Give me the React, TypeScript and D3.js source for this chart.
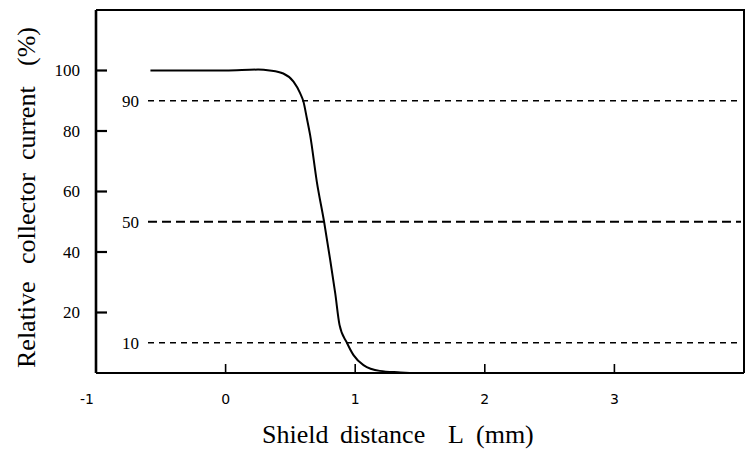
import * as d3 from "d3";

// curve
const shieldDistance = [-0.58, 0.0, 0.25, 0.34, 0.445, 0.524, 0.575, 0.6, 0.627, 0.652, 0.704, 0.76, 0.807, 0.846, 0.879, 0.936, 0.987, 1.064, 1.19, 1.35, 1.42];
const relativeCurrent = [100, 100, 100.3, 100, 99, 96.3, 92.5, 89.8, 84.2, 78.7, 63.2, 50, 37.4, 26.3, 15.9, 10, 5.9, 2.6, 0.7, 0.2, 0];

const xTicks = [-1, 0, 1, 2, 3];
const yTicks = [20, 40, 60, 80, 100];
const refLevels = [90, 50, 10];

const width = 750;
const height = 460;
const serif = "'Liberation Serif', 'Times New Roman', serif";

export default function App() {
  const x = d3.scaleLinear().domain([-1, 4]).range([96, 744]);
  const y = d3.scaleLinear().domain([0, 120]).range([373, 10]);

  const points = shieldDistance.map((d, i) => [d, relativeCurrent[i]] as [number, number]);
  const line = d3
    .line<[number, number]>()
    .x((d) => x(d[0]))
    .y((d) => y(d[1]))
    .curve(d3.curveMonotoneX);

  const [x0, x1] = x.range();
  const [y0, y1] = y.range();

  return (
    <div style={{ position: "absolute", left: 0, top: 0 }}>
      <svg width={width} height={height} style={{ display: "block", background: "#fff" }}>
        {/* frame */}
        <path d={`M${x0},${y1}H${x1}V${y0}`} fill="none" stroke="#000" strokeWidth={2} />
        <line x1={x0} x2={x1} y1={y0} y2={y0} stroke="#000" strokeWidth={2.2} />
        <line x1={x0} x2={x0} y1={y1} y2={y0} stroke="#000" strokeWidth={2.6} />

        {/* y ticks */}
        {yTicks.map((t) => (
          <g key={t}>
            <line x1={x0} x2={x0 + 11} y1={y(t)} y2={y(t)} stroke="#000" strokeWidth={2.2} />
            <text x={80} y={y(t)} dy="0.35em" textAnchor="end" fontFamily={serif} fontSize={17}>
              {t}
            </text>
          </g>
        ))}

        {/* x ticks */}
        {xTicks.map((t) => (
          <g key={t}>
            {t > -1 && (
              <line x1={x(t)} x2={x(t)} y1={y0} y2={y0 - 9} stroke="#000" strokeWidth={1.6} />
            )}
            <text
              x={t === -1 ? x(t) - 9 : x(t)}
              y={404}
              textAnchor="middle"
              fontFamily="'DejaVu Sans', sans-serif"
              fontSize={14}
            >
              {t}
            </text>
          </g>
        ))}

        {/* reference levels */}
        {refLevels.map((r) => (
          <g key={r}>
            <line
              x1={148}
              x2={741}
              y1={y(r)}
              y2={y(r)}
              stroke="#000"
              strokeWidth={r === 50 ? 2.2 : 1.3}
              strokeDasharray={r === 50 ? "9,5" : "6,5"}
            />
            <text x={122} y={y(r)} dy="0.35em" fontFamily={serif} fontSize={17}>
              {r}
            </text>
          </g>
        ))}

        {/* curve */}
        <path d={line(points) ?? ""} fill="none" stroke="#000" strokeWidth={2} />

        {/* x title */}
        <g fontFamily={serif} fontSize={26}>
          <text x={262} y={443}>Shield</text>
          <text x={340} y={443}>distance</text>
          <text x={448} y={443}>L</text>
          <text x={476} y={443}>(mm)</text>
        </g>

        {/* y title */}
        <g transform="translate(35,368) rotate(-90)" fontFamily={serif} fontSize={26}>
          <text x={0} y={0}>Relative</text>
          <text x={104} y={0}>collector</text>
          <text x={208} y={0}>current</text>
          <text x={302} y={0}>(%)</text>
        </g>
      </svg>
    </div>
  );
}
